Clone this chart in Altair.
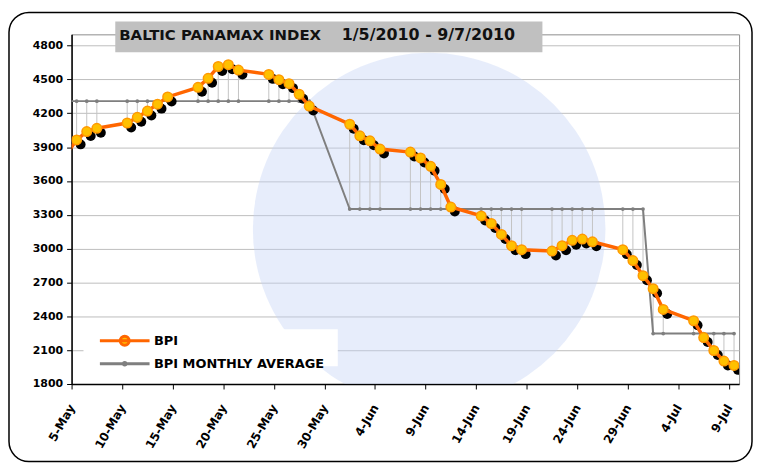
import altair as alt
import pandas as pd

# ---- values ----
may_days = [4, 5, 6, 7, 10, 11, 12, 13, 14, 17, 18, 19, 20, 21, 24, 25, 26, 27, 28]
may_bpi = [3840, 3964, 4038, 4067, 4114, 4164, 4220, 4281, 4345, 4430, 4510, 4615,
           4631, 4583, 4545, 4498, 4463, 4369, 4264]
jun_days = [1, 2, 3, 4, 7, 8, 9, 10, 11, 14, 15, 16, 17, 18, 21, 22, 23, 24, 25, 28, 29, 30]
jun_bpi = [4103, 4000, 3956, 3883, 3856, 3804, 3730, 3569, 3369, 3290, 3223, 3126,
           3026, 2991, 2979, 3026, 3074, 3085, 3061, 2991, 2894, 2760]
jul_days = [1, 2, 5, 6, 7, 8, 9]
jul_bpi = [2645, 2461, 2361, 2212, 2097, 2003, 1965]
month_numbers = [5, 6, 7]
month_avg = [4308, 3351, 2247]
series_names = ["BPI", "BPI MONTHLY AVERAGE"]
y_ticks = [1800, 2100, 2400, 2700, 3000, 3300, 3600, 3900, 4200, 4500, 4800]
x_tick_dates = [(5, 5), (5, 10), (5, 15), (5, 20), (5, 25), (5, 30), (6, 4), (6, 9),
                (6, 14), (6, 19), (6, 24), (6, 29), (7, 4), (7, 9)]
title_main = "BALTIC PANAMAX INDEX"
title_period = "1/5/2010 - 9/7/2010"

# ---- table ----
rows = []
for m, days, vals in [(5, may_days, may_bpi), (6, jun_days, jun_bpi), (7, jul_days, jul_bpi)]:
    avg = month_avg[month_numbers.index(m)]
    for d, v in zip(days, vals):
        # Excel date axis: each day's point sits in the middle of its day slot
        rows.append({"date": pd.Timestamp(2010, m, d, 12), "bpi": v, "avg": avg})
df = pd.DataFrame(rows)
deco = pd.DataFrame({"k": [0]})
legend_df = pd.DataFrame({"series": series_names})

FONT = "DejaVu Sans"
IN_RANGE = "time(toDate(datum.date)) >= time(datetime(2010, 4, 5))"  # from 5 May on

x_scale = alt.Scale(domain=[alt.DateTime(year=2010, month=5, date=5),
                            alt.DateTime(year=2010, month=7, date=10)], nice=False)
y_scale = alt.Scale(domain=[1800, 4900], nice=False, zero=False)

x_axis = alt.Axis(values=[alt.DateTime(year=2010, month=m, date=d) for m, d in x_tick_dates],
                  format="%-d-%b", labelAngle=-60, labelAlign="right", labelBaseline="middle",
                  labelPadding=16, tickSize=5, grid=False, title=None, labelFontSize=12,
                  labelOverlap=False, labelFlush=False)
y_axis = alt.Axis(values=y_ticks, format="d", title=None, tickSize=5, labelPadding=4,
                  gridColor="#BDBDBD", gridWidth=1, labelFontSize=11)

X = alt.X("date:T", scale=x_scale, axis=x_axis)
Y_bpi = alt.Y("bpi:Q", scale=y_scale, axis=y_axis)
Y_avg = alt.Y("avg:Q", scale=y_scale, axis=y_axis)

# decoration: outer rounded frame
frame = alt.Chart(deco).mark_rect(cornerRadius=20, fillOpacity=0, stroke="black",
                                  strokeWidth=1.5).encode(
    x=alt.value(-63), x2=alt.value(685), y=alt.value(-22), y2=alt.value(430))

# decoration: faint logo watermark behind the data
watermark = alt.Chart(deco).mark_point(shape="circle", filled=True, size=126000,
                                       color="#C3D2F4", opacity=0.4, clip=True).encode(
    x=alt.value(360), y=alt.value(196))

drops = alt.Chart(df).mark_rule(color="#C4C4C4", strokeWidth=1, clip=True).encode(
    x=X, y=Y_avg, y2="bpi:Q")
avg_line = alt.Chart(df).mark_line(color="#7F7F7F", strokeWidth=2, clip=True).encode(x=X, y=Y_avg)
avg_dots = alt.Chart(df).transform_filter(IN_RANGE).mark_point(
    filled=True, size=14, color="#7F7F7F", opacity=1, clip=True).encode(x=X, y=Y_avg)
# drop shadow of the markers: shifted a little right and down
shadows = alt.Chart(df).transform_filter(IN_RANGE).mark_point(
    filled=True, size=100, color="black", opacity=1, xOffset=4, yOffset=4.5,
    clip=True).encode(x=X, y=Y_bpi)
bpi_line = alt.Chart(df).mark_line(color="#FF6600", strokeWidth=3.5, clip=True).encode(x=X, y=Y_bpi)
markers = alt.Chart(df).transform_filter(IN_RANGE).mark_point(
    filled=True, size=92, fill="#FFC000", stroke="#FF9900", strokeWidth=1.5, opacity=1,
    clip=True).encode(x=X, y=Y_bpi)

# title box and title text
title_box = alt.Chart(deco).mark_rect(fill="#C0C0C0").encode(
    x=alt.value(44), x2=alt.value(474), y=alt.value(-13), y2=alt.value(18))
title_a = alt.Chart(deco).mark_text(text=title_main, font=FONT, fontWeight="bold", fontSize=15,
                                    align="left", baseline="alphabetic", color="#111111").encode(
    x=alt.value(48), y=alt.value(6))
title_b = alt.Chart(deco).mark_text(text=title_period, font=FONT, fontWeight="bold", fontSize=16,
                                    align="left", baseline="alphabetic", color="#111111").encode(
    x=alt.value(272), y=alt.value(6))

# legend background box
legend_box = alt.Chart(deco).mark_rect(fill="white").encode(
    x=alt.value(12), x2=alt.value(268), y=alt.value(297), y2=alt.value(334))

# legend (symbols only, no drawn rows)
legend_paths = [
    "M-5,0L5,0M0.9,0A0.9,0.9,0,1,1,-0.9,0A0.9,0.9,0,1,1,0.9,0Z",
    "M-5,0L5,0M0.25,0A0.25,0.25,0,1,1,-0.25,0A0.25,0.25,0,1,1,0.25,0Z",
]
leg = alt.Legend(title=None)
legend_layer = alt.Chart(legend_df).transform_filter("false").mark_point(
    filled=True, size=100, strokeWidth=3, opacity=1).encode(
    shape=alt.Shape("series:N", scale=alt.Scale(domain=series_names, range=legend_paths), legend=leg),
    fill=alt.Fill("series:N", scale=alt.Scale(domain=series_names, range=["#FFC000", "#7F7F7F"]), legend=leg),
    stroke=alt.Stroke("series:N", scale=alt.Scale(domain=series_names, range=["#FF6600", "#7F7F7F"]), legend=leg),
)

chart = alt.layer(
    frame, watermark, drops, avg_line, avg_dots, shadows, bpi_line, markers,
    title_box, title_a, title_b, legend_box, legend_layer
).properties(
    width=672, height=352,
    autosize=alt.AutoSizeParams(type="none"),
    padding={"left": 64, "top": 25, "right": 14, "bottom": 79},
).configure_view(
    fill="#EEF0FC", stroke="#8C8C8C", strokeWidth=1
).configure_axis(
    labelFont=FONT, labelFontWeight="bold", labelColor="black",
    domainColor="black", domainWidth=1.5, tickColor="black", tickWidth=1
).configure_legend(
    orient="none", legendX=43, legendY=298, padding=4,
    symbolSize=100, symbolStrokeWidth=3, labelOffset=23,
    labelFont=FONT, labelFontWeight="bold", labelFontSize=13, labelColor="black",
    labelLimit=400, rowPadding=5,
)

chart.save("out.html", embed_options={"renderer": "svg", "actions": False})
